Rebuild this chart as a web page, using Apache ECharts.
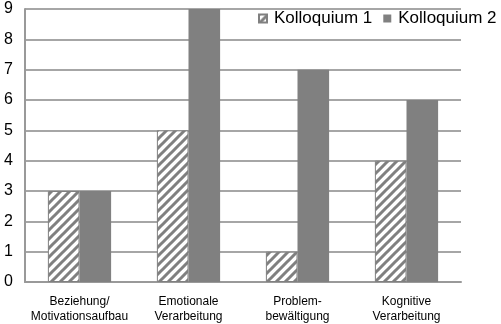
<!DOCTYPE html>
<html><head><meta charset="utf-8">
<script src="https://cdn.jsdelivr.net/npm/echarts@6/dist/echarts.min.js"></script>
<style>html,body{margin:0;padding:0;background:#fff}#c{width:501px;height:324px}</style>
</head><body><div id="c"></div>
<script>
const categories = ['Beziehung/\nMotivationsaufbau', 'Emotionale\nVerarbeitung', 'Problem-\nbewältigung', 'Kognitive\nVerarbeitung'];
const seriesNames = ['Kolloquium 1', 'Kolloquium 2'];
const kolloquium1 = [3, 5, 1, 4];
const kolloquium2 = [3, 9, 7, 6];

function hatch() {
  const s = 9;
  const c = document.createElement('canvas');
  c.width = s; c.height = s;
  const g = c.getContext('2d');
  g.fillStyle = '#fff'; g.fillRect(0, 0, s, s);
  g.strokeStyle = '#808080'; g.lineWidth = 3;
  g.beginPath();
  g.moveTo(-2, s + 2); g.lineTo(s + 2, -2);
  g.moveTo(-2, 2); g.lineTo(2, -2);
  g.moveTo(s - 2, s + 2); g.lineTo(s + 2, s - 2);
  g.stroke();
  return c;
}

const chart = echarts.init(document.getElementById('c'), null, {renderer: 'canvas'});
const font = 'Liberation Sans, Arial, sans-serif';
chart.setOption({
  animation: false,
  textStyle: {fontFamily: font},
  grid: {left: 25, right: 40, top: 9, bottom: 39, containLabel: false},
  legend: {
    left: 253, top: 5, itemWidth: 8, itemHeight: 8, itemGap: 11, icon: 'rect',
    textStyle: {fontSize: 17, color: '#000', fontFamily: font, padding: [0, 0, 0, 2]},
    data: seriesNames
  },
  xAxis: {
    type: 'category', data: categories,
    axisLine: {lineStyle: {color: '#999', width: 2}},
    axisTick: {show: false},
    axisLabel: {fontSize: 12, color: '#000', lineHeight: 15, margin: 12, interval: 0, fontFamily: font}
  },
  yAxis: {
    type: 'value', min: 0, max: 9, interval: 1,
    axisLine: {show: true, lineStyle: {color: '#999', width: 2}},
    axisTick: {show: false},
    axisLabel: {fontSize: 16, color: '#000', margin: 12, fontFamily: font},
    splitLine: {lineStyle: {color: '#a6a6a6', width: 2}}
  },
  series: [
    {name: seriesNames[0], type: 'bar', data: kolloquium1, barGap: '0%', barCategoryGap: '42%',
     itemStyle: {color: {image: hatch(), repeat: 'repeat'}, borderColor: '#808080', borderWidth: 1}},
    {name: seriesNames[1], type: 'bar', data: kolloquium2,
     itemStyle: {color: '#808080'}}
  ]
});
</script></body></html>
